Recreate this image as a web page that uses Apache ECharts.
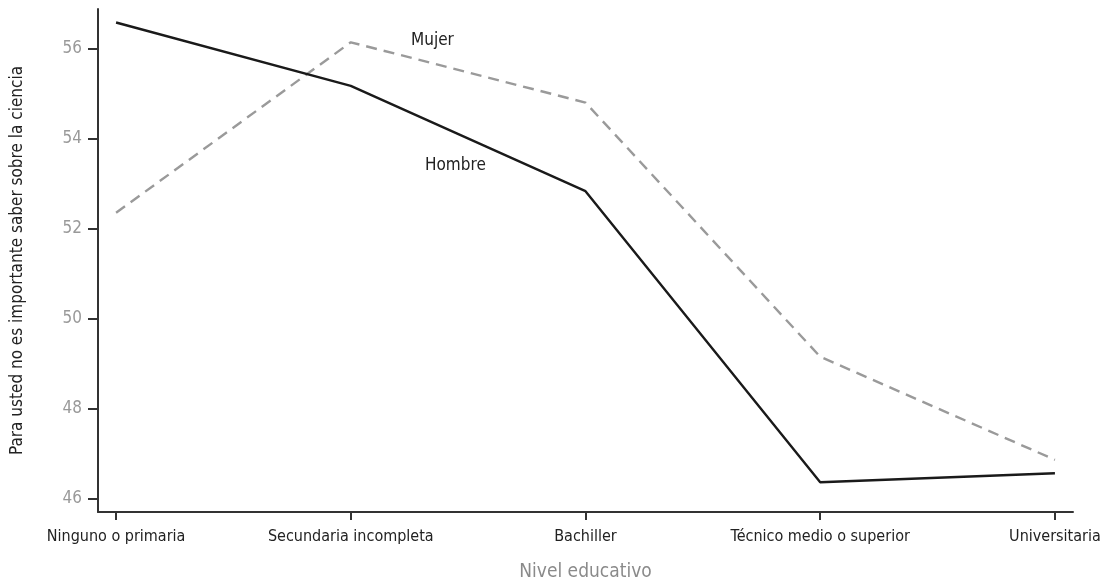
<!DOCTYPE html>
<html>
<head>
<meta charset="utf-8">
<script src="https://cdn.jsdelivr.net/npm/echarts@6/dist/echarts.min.js"></script>
<style>
  html, body { margin: 0; padding: 0; background: #fff; }
  #chart { width: 1101px; height: 583px; }
</style>
</head>
<body>
<div id="chart"></div>
<script>
const categories = ["Ninguno o primaria", "Secundaria incompleta", "Bachiller", "Técnico medio o superior", "Universitaria"];
const hombre = [56.59, 55.18, 52.84, 46.37, 46.57];
const mujer = [52.36, 56.15, 54.81, 49.16, 46.87];
const yTicks = [46, 48, 50, 52, 54, 56];

const FONT = '"Liberation Sans Narrow", "DejaVu Sans Condensed", sans-serif';
const catIdx = categories.map((c, i) => i);

let chart = echarts.init(document.getElementById("chart"));
let option = {
  backgroundColor: "#ffffff",
  animation: false,
  grid: { left: 98, right: 28, top: 9, bottom: 71, outerBoundsMode: "none", containLabel: false },
  xAxis: {
    type: "value",
    min: -0.077,
    max: 4.077,
    name: "Nivel educativo",
    nameLocation: "middle",
    nameGap: 51,
    nameTextStyle: { color: "#8a8a8a", fontSize: 19, fontFamily: FONT },
    splitLine: { show: false },
    axisLine: { show: true, onZero: false, lineStyle: { color: "#333", width: 2 } },
    axisTick: { show: true, customValues: catIdx, length: 8, lineStyle: { color: "#333", width: 2 } },
    axisLabel: {
      customValues: catIdx,
      formatter: (v) => categories[Math.round(v)],
      color: "#222",
      fontSize: 16,
      fontFamily: FONT,
      margin: 17,
    },
  },
  yAxis: {
    type: "value",
    min: 45.71,
    max: 56.89,
    name: "Para usted no es importante saber sobre la ciencia",
    nameLocation: "middle",
    nameGap: 72,
    nameTextStyle: { color: "#222", fontSize: 17, fontFamily: FONT },
    splitLine: { show: false },
    axisLine: { show: true, onZero: false, lineStyle: { color: "#333", width: 2 } },
    axisTick: { show: true, customValues: yTicks, length: 10, lineStyle: { color: "#333", width: 2 } },
    axisLabel: {
      customValues: yTicks,
      color: "#999",
      fontSize: 17,
      fontFamily: FONT,
      margin: 16,
    },
  },
  series: [
    {
      name: "Mujer",
      type: "line",
      data: mujer.map((v, i) => [i, v]),
      symbol: "none",
      lineStyle: { color: "#9a9a9a", width: 2.4, type: [11, 7] },
    },
    {
      name: "Hombre",
      type: "line",
      data: hombre.map((v, i) => [i, v]),
      symbol: "none",
      lineStyle: { color: "#1a1a1a", width: 2.4 },
    },
  ],
  graphic: [
    { type: "text", left: 411, top: 32, style: { text: "Mujer", fontSize: 17, fontFamily: FONT, fill: "#222" } },
    { type: "text", left: 425, top: 157, style: { text: "Hombre", fontSize: 17, fontFamily: FONT, fill: "#222" } },
  ],
};
chart.setOption(option);
</script>
</body>
</html>
